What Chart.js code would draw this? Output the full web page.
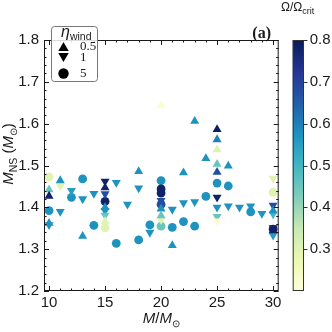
<!DOCTYPE html>
<html>
<head>
<meta charset="utf-8">
<script src="https://cdn.jsdelivr.net/npm/chart.js@4/dist/chart.umd.min.js"></script>
<style>
  html, body { margin: 0; padding: 0; background: #fff; }
  #wrap { width: 332px; height: 332px; }
</style>
</head>
<body>
<div id="wrap"><canvas id="chart" width="332" height="332"></canvas></div>
<script>
// NS mass vs initial mass, colour = Omega/Omega_crit, marker = eta_wind
const etaLabels = ["0.5", "1", "5"];

// eta_wind = 0.5 (triangle up)
const massUp = [10, 10, 10, 11, 13, 15, 15, 15, 18, 20, 20, 20, 21, 22, 23, 24, 25, 25, 25, 25, 25, 26, 30, 30];
const nsUp = [1.442, 1.427, 1.362, 1.464, 1.331, 1.447, 1.400, 1.366, 1.486, 1.644, 1.396, 1.380, 1.309, 1.483, 1.606, 1.517, 1.586, 1.562, 1.538, 1.503, 1.484, 1.499, 1.392, 1.344];
const omegaUp = [0.45, 0.78, 0.57, 0.57, 0.57, 0.78, 0.57, 0.30, 0.57, 0.22, 0.57, 0.45, 0.57, 0.57, 0.57, 0.57, 0.79, 0.60, 0.30, 0.45, 0.68, 0.57, 0.57, 0.78];

// eta_wind = 1 (triangle down)
const massDown = [10, 11, 11, 12, 13, 14, 15, 15, 15, 15, 16, 17, 18, 19, 20, 20, 21, 22, 23, 25, 25, 25, 25, 26, 27, 28, 29, 30, 30, 30, 30, 30];
const nsDown = [1.358, 1.451, 1.390, 1.440, 1.420, 1.433, 1.462, 1.432, 1.392, 1.381, 1.459, 1.407, 1.446, 1.340, 1.416, 1.370, 1.395, 1.411, 1.413, 1.424, 1.400, 1.378, 1.367, 1.403, 1.400, 1.403, 1.385, 1.469, 1.405, 1.384, 1.351, 1.333];
const omegaDown = [0.57, 0.30, 0.57, 0.55, 0.57, 0.57, 0.78, 0.68, 0.57, 0.45, 0.57, 0.57, 0.57, 0.57, 0.68, 0.30, 0.57, 0.57, 0.57, 0.78, 0.57, 0.45, 0.22, 0.57, 0.57, 0.57, 0.57, 0.30, 0.68, 0.50, 0.78, 0.55];

// eta_wind = 5 (circle)
const massCirc = [10, 10, 12, 13, 14, 15, 15, 16, 18, 19, 20, 20, 20, 20, 20, 21, 22, 23, 24, 25, 26, 28, 30, 30];
const nsCirc = [1.473, 1.392, 1.424, 1.468, 1.357, 1.414, 1.351, 1.314, 1.322, 1.358, 1.464, 1.444, 1.434, 1.407, 1.355, 1.352, 1.366, 1.355, 1.426, 1.458, 1.451, 1.389, 1.436, 1.348];
const omegaCirc = [0.30, 0.57, 0.57, 0.57, 0.57, 0.78, 0.30, 0.57, 0.57, 0.57, 0.57, 0.78, 0.78, 0.68, 0.45, 0.57, 0.57, 0.57, 0.57, 0.57, 0.57, 0.57, 0.30, 0.78];

const xTicks = [10, 15, 20, 25, 30];
const yTicks = [1.2, 1.3, 1.4, 1.5, 1.6, 1.7, 1.8];
const cbTicks = [0.3, 0.4, 0.5, 0.6, 0.7, 0.8];

const ylgnbu = ["#ffffd9", "#edf8b1", "#c7e9b4", "#7fcdbb", "#41b6c4", "#1d91c0", "#225ea8", "#253494", "#081d58"];
const cMin = 0.2, cMax = 0.8;

function hexToRgb(h) {
  return [1, 3, 5].map((i) => parseInt(h.slice(i, i + 2), 16));
}

function colorFor(v) {
  let t = (v - cMin) / (cMax - cMin);
  t = Math.max(0, Math.min(1, t)) * (ylgnbu.length - 1);
  const i = Math.min(Math.floor(t), ylgnbu.length - 2);
  const f = t - i;
  const a = hexToRgb(ylgnbu[i]);
  const b = hexToRgb(ylgnbu[i + 1]);
  const c = a.map((x, k) => Math.round(x + (b[k] - x) * f));
  return `rgb(${c[0]},${c[1]},${c[2]})`;
}

function toPoints(xs, ys) {
  return xs.map((x, i) => ({ x, y: ys[i] }));
}

const sans = "'Liberation Sans', Arial, sans-serif";
const serif = "'Liberation Serif', 'Times New Roman', serif";
const ink = "#1a1a1a";

function drawRuns(ctx, runs, x, y) {
  let cx = x;
  for (const r of runs) {
    ctx.font = r.font;
    ctx.fillText(r.t, cx, y + (r.dy || 0));
    cx += ctx.measureText(r.t).width;
  }
}

function runsWidth(ctx, runs) {
  let w = 0;
  for (const r of runs) {
    ctx.font = r.font;
    w += ctx.measureText(r.t).width;
  }
  return w;
}

const framePlugin = {
  id: "frame",
  afterDatasetsDraw(chart) {
    const { ctx, chartArea: a } = chart;
    const x = chart.scales.x;
    const y = chart.scales.y;
    ctx.save();
    ctx.strokeStyle = ink;
    ctx.lineWidth = 1;
    ctx.strokeRect(a.left + 0.5, a.top + 0.5, a.right - a.left - 1, a.bottom - a.top - 1);
    ctx.beginPath();
    for (let v = 10; v <= 30; v++) {
      const px = Math.round(x.getPixelForValue(v)) + 0.5;
      const len = v % 5 === 0 ? 5 : 2.5;
      ctx.moveTo(px, a.bottom); ctx.lineTo(px, a.bottom - len);
      ctx.moveTo(px, a.top); ctx.lineTo(px, a.top + len);
    }
    for (let i = 0; i <= 30; i++) {
      const py = Math.round(y.getPixelForValue(1.2 + i * 0.02)) + 0.5;
      const len = i % 5 === 0 ? 5 : 2.5;
      ctx.moveTo(a.left, py); ctx.lineTo(a.left + len, py);
      ctx.moveTo(a.right, py); ctx.lineTo(a.right - len, py);
    }
    ctx.stroke();
    ctx.restore();
  },
  afterDraw(chart) {
    const { ctx, chartArea: a } = chart;
    const cb = chart.scales.cb;
    ctx.save();

    // colour bar
    const left = cb.left + 14, w = 11.3;
    const top = cb.getPixelForValue(cMax), bottom = cb.getPixelForValue(cMin);
    const g = ctx.createLinearGradient(0, bottom, 0, top);
    ylgnbu.forEach((c, i) => g.addColorStop(i / (ylgnbu.length - 1), c));
    ctx.fillStyle = g;
    ctx.fillRect(left, top, w, bottom - top);
    ctx.strokeStyle = "#333";
    ctx.lineWidth = 1;
    ctx.strokeRect(left + 0.5, top + 0.5, w - 1, bottom - top - 1);
    ctx.beginPath();
    for (const v of cbTicks) {
      const py = Math.round(cb.getPixelForValue(v)) + 0.5;
      ctx.moveTo(left + w, py); ctx.lineTo(left + w + 3.5, py);
    }
    ctx.stroke();

    ctx.fillStyle = ink;
    ctx.textBaseline = "alphabetic";

    // colour bar title
    drawRuns(ctx, [
      { t: "Ω/Ω", font: `12px ${sans}` },
      { t: "crit", font: `9px ${sans}`, dy: 3 },
    ], 281, 11);

    // x title
    const xRuns = [
      { t: "M", font: `italic 15px ${sans}` },
      { t: "/", font: `15px ${sans}` },
      { t: "M", font: `italic 15px ${sans}` },
      { t: "⊙", font: `10px ${sans}`, dy: 3.5 },
    ];
    const xw = runsWidth(ctx, xRuns);
    drawRuns(ctx, xRuns, (a.left + a.right) / 2 - xw / 2, 323);

    // y title
    const yRuns = [
      { t: "M", font: `italic 15px ${sans}` },
      { t: "NS", font: `10.5px ${sans}`, dy: 3.5 },
      { t: " (", font: `15px ${sans}` },
      { t: "M", font: `italic 15px ${sans}` },
      { t: "⊙", font: `10px ${sans}`, dy: 3.5 },
      { t: ")", font: `15px ${sans}` },
    ];
    const yw = runsWidth(ctx, yRuns);
    ctx.save();
    ctx.translate(13, 154);
    ctx.rotate(-Math.PI / 2);
    drawRuns(ctx, yRuns, -yw / 2, 0);
    ctx.restore();

    // panel label
    ctx.font = `bold 16px ${serif}`;
    ctx.textAlign = "right";
    ctx.fillText("(a)", 271, 38);
    ctx.textAlign = "left";

    // legend box
    const bx = 51, by = 26, bw = 46, bh = 55;
    ctx.beginPath();
    ctx.roundRect(bx + 0.5, by + 0.5, bw, bh, 3);
    ctx.fillStyle = "rgba(255,255,255,0.85)";
    ctx.fill();
    ctx.strokeStyle = "#777";
    ctx.stroke();
    ctx.fillStyle = ink;
    drawRuns(ctx, [
      { t: "η", font: `italic 16px ${sans}` },
      { t: "wind", font: `10.5px ${sans}`, dy: 3 },
    ], 61, 37);

    const rows = [46.5, 57.5, 73.5];
    chart.data.datasets.forEach((ds, i) => {
      const opts = {
        pointStyle: ds.pointStyle,
        rotation: ds.pointRotation || 0,
        radius: ds.pointStyle === "circle" ? 5.2 : 6,
        borderWidth: 0,
      };
      const cy = ds.pointStyle === "circle" ? rows[i] : rows[i] + (opts.rotation ? -1.5 : 1.5);
      ctx.fillStyle = "#000";
      ctx.beginPath();
      Chart.helpers.drawPoint(ctx, opts, 63.5, cy);
      ctx.fillStyle = ink;
      ctx.font = `13px ${serif}`;
      ctx.textBaseline = "middle";
      ctx.fillText(ds.label, 80, rows[i]);
      ctx.textBaseline = "alphabetic";
    });

    ctx.restore();
  },
};

const ctx = document.querySelector("#chart").getContext("2d");

new Chart(ctx, {
  type: "scatter",
  data: {
    datasets: [
      {
        label: etaLabels[0],
        data: toPoints(massUp, nsUp),
        backgroundColor: omegaUp.map(colorFor),
        pointStyle: "triangle",
        pointRadius: 5.2,
        borderWidth: 0,
      },
      {
        label: etaLabels[1],
        data: toPoints(massDown, nsDown),
        backgroundColor: omegaDown.map(colorFor),
        pointStyle: "triangle",
        pointRotation: 180,
        pointRadius: 5.2,
        borderWidth: 0,
      },
      {
        label: etaLabels[2],
        data: toPoints(massCirc, nsCirc),
        backgroundColor: omegaCirc.map(colorFor),
        pointStyle: "circle",
        pointRadius: 4.4,
        borderWidth: 0,
      },
    ],
  },
  options: {
    responsive: false,
    animation: false,
    events: [],
    layout: { padding: { top: 21, left: 0, right: 0, bottom: 0 } },
    plugins: { legend: { display: false }, tooltip: { enabled: false } },
    scales: {
      x: {
        type: "linear",
        position: "bottom",
        min: 9.55,
        max: 30.5,
        afterBuildTicks: (s) => { s.ticks = xTicks.map((v) => ({ value: v })); },
        afterFit: (s) => { s.height = 41; },
        grid: { display: false, drawTicks: false },
        border: { display: false },
        ticks: { padding: 3, maxRotation: 0, color: ink, font: { family: sans, size: 15 } },
      },
      y: {
        type: "linear",
        position: "left",
        min: 1.2,
        max: 1.8,
        afterBuildTicks: (s) => { s.ticks = yTicks.map((v) => ({ value: v })); },
        afterFit: (s) => { s.width = 44; },
        grid: { display: false, drawTicks: false },
        border: { display: false },
        ticks: { padding: 5, color: ink, font: { family: sans, size: 15 }, callback: (v) => v.toFixed(1) },
      },
      cb: {
        type: "linear",
        axis: "y",
        position: "right",
        min: cMin,
        max: cMax,
        afterBuildTicks: (s) => { s.ticks = cbTicks.map((v) => ({ value: v })); },
        afterFit: (s) => { s.width = 53.3; },
        grid: { display: false, drawTicks: false },
        border: { display: false },
        ticks: { padding: 31, color: ink, font: { family: sans, size: 15 }, callback: (v) => v.toFixed(1) },
      },
    },
  },
  plugins: [framePlugin],
});
</script>
</body>
</html>
